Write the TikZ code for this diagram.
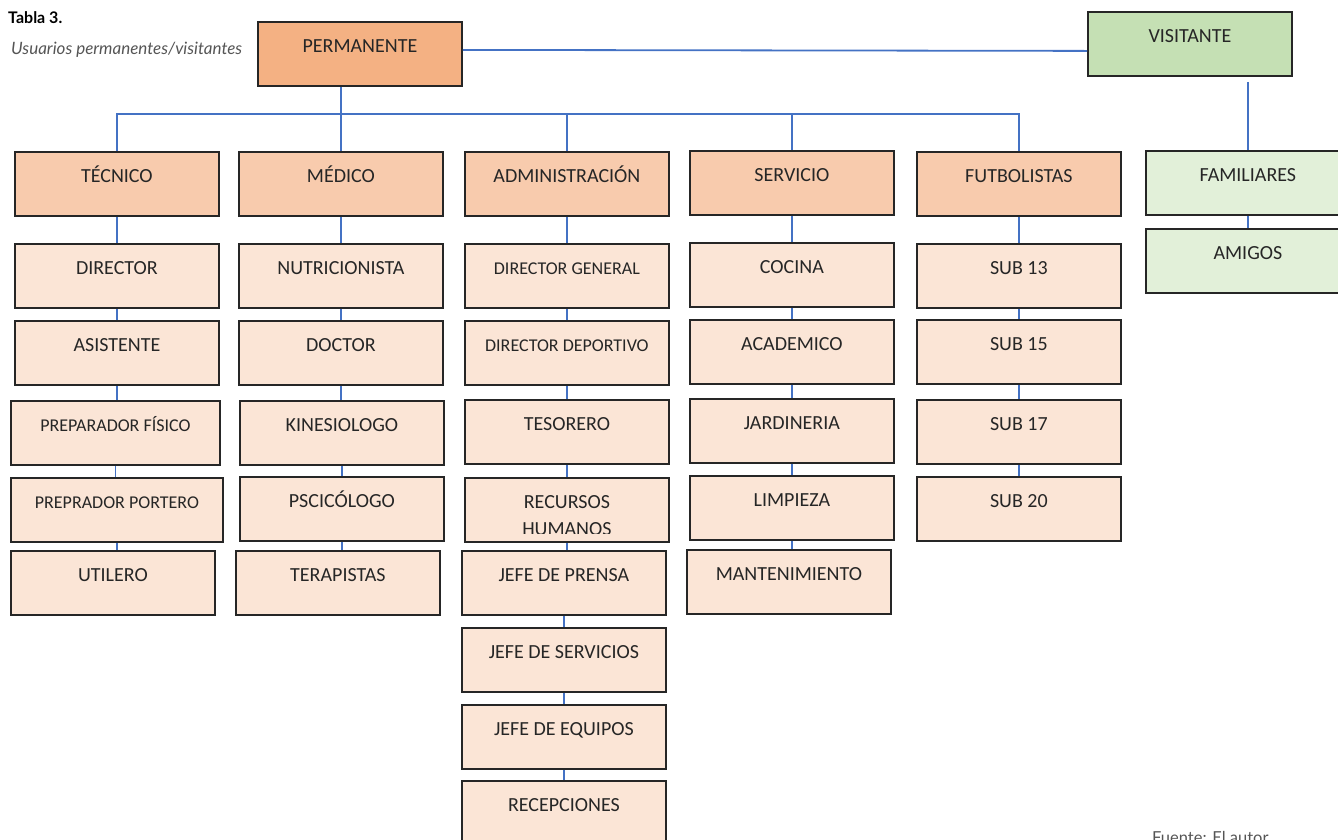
\documentclass[tikz,border=0pt]{standalone}
\usepackage{fontspec}
\setmainfont{Carlito}
\newfontfamily\capfont{Lato}
\usepackage{tikz}
\usetikzlibrary{positioning,calc}
\usepackage{xcolor}
\definecolor{permcol}{HTML}{F4B183}
\definecolor{catcol}{HTML}{F8CBAD}
\definecolor{subcol}{HTML}{FBE5D6}
\definecolor{viscol}{HTML}{C5E0B4}
\definecolor{famcol}{HTML}{E2F0D9}
\definecolor{linkcol}{HTML}{4472C4}
\definecolor{edgecol}{HTML}{262626}
\definecolor{capcol}{HTML}{555555}
\tikzset{
  % org box: text sits in the upper part
  orgbox/.style={rectangle, draw=edgecol, line width=1.8pt, fill=#1, anchor=north west,
                 minimum width=204pt, minimum height=64pt, inner sep=0pt,
                 text height=31pt, text depth=33pt, text=edgecol,
                 font=\fontsize{20}{24}\selectfont},
  orgbox/.default={subcol},
  % category box
  catbox/.style={orgbox=catcol},
  % sub box
  subbox/.style={orgbox=subcol},
  % smaller label
  smalltxt/.style={font=\fontsize{18}{22}\selectfont},
  % blue connector
  link/.style={draw=linkcol, line width=1.8pt},
  % caption text
  capt/.style={anchor=base west, inner sep=0pt, text=capcol},
}

\begin{document}
\begin{tikzpicture}[x=1pt,y=-1pt]
  \useasboundingbox (0,0) rectangle (1338,839);
  \clip (0,0) rectangle (1338,839);

  % caption
  \node[capt, text=black, font=\capfont\bfseries\fontsize{16}{19}\selectfont] (tabla) at (8,23) {Tabla 3.};
  \node[capt, font=\capfont\itshape\fontsize{17}{20}\selectfont] (usuarios) at (11,54) {Usuarios permanentes/visitantes};

  % top level
  \node[orgbox=permcol] (perm) at (257,21) {PERMANENTE};
  \node[orgbox=viscol] (vis) at (1087,11) {VISITANTE};

  % categories
  \node[catbox] (tec) at (14,151) {TÉCNICO};
  \node[catbox] (med) at (238,151) {MÉDICO};
  \node[catbox] (adm) at (464,151) {ADMINISTRACIÓN};
  \node[catbox] (ser) at (689,150) {SERVICIO};
  \node[catbox] (fut) at (916,151) {FUTBOLISTAS};
  \node[orgbox=famcol] (fam) at (1145,150) {FAMILIARES};
  \node[orgbox=famcol] (ami) at (1145,228) {AMIGOS};

  % tecnico
  \node[subbox] (dir) at (14,243) {DIRECTOR};
  \node[subbox] (asi) at (14,320) {ASISTENTE};
  \node[subbox, smalltxt, minimum width=209pt] (pfi) at (10,400) {PREPARADOR FÍSICO};
  \node[subbox, smalltxt, minimum width=212pt] (ppo) at (10,477) {PREPRADOR PORTERO};
  \node[subbox] (uti) at (10,550) {UTILERO};

  % medico
  \node[subbox] (nut) at (238,243) {NUTRICIONISTA};
  \node[subbox] (doc) at (238,320) {DOCTOR};
  \node[subbox] (kin) at (239,400) {KINESIOLOGO};
  \node[subbox] (psi) at (239,476) {PSCICÓLOGO};
  \node[subbox] (ter) at (235,550) {TERAPISTAS};

  % administracion
  \node[subbox, smalltxt] (dge) at (464,243) {DIRECTOR GENERAL};
  \node[subbox, smalltxt] (dde) at (464,320) {DIRECTOR DEPORTIVO};
  \node[subbox] (tes) at (464,399) {TESORERO};
  \node[subbox] (rrhh) at (464,477) {RECURSOS};
  \begin{scope}
    \clip (rrhh.north west) rectangle ([yshift=9pt]rrhh.south east);
    \node[anchor=base, inner sep=0pt, text=edgecol, font=\fontsize{20}{24}\selectfont] (rrhhb) at ($(rrhh.north)+(0,58)$) {HUMANOS};
  \end{scope}
  \node[subbox] (jpr) at (461,550) {JEFE DE PRENSA};
  \node[subbox] (jse) at (461,627) {JEFE DE SERVICIOS};
  \node[subbox] (jeq) at (461,704) {JEFE DE EQUIPOS};
  \node[subbox] (rec) at (461,780) {RECEPCIONES};

  % servicio
  \node[subbox] (coc) at (689,242) {COCINA};
  \node[subbox] (aca) at (689,319) {ACADEMICO};
  \node[subbox] (jar) at (689,398) {JARDINERIA};
  \node[subbox] (lim) at (689,475) {LIMPIEZA};
  \node[subbox] (man) at (686,549) {MANTENIMIENTO};

  % futbolistas
  \node[subbox] (s13) at (916,243) {SUB 13};
  \node[subbox] (s15) at (916,319) {SUB 15};
  \node[subbox] (s17) at (916,399) {SUB 17};
  \node[subbox] (s20) at (916,476) {SUB 20};

  \node[capt, font=\capfont\fontsize{16.5}{19}\selectfont] (fuente) at (1152,843) {Fuente: El autor};

  % connectors
  \coordinate (barL) at (117,114);
  \coordinate (barR) at (1017,114);
  \draw[link] ([yshift=4pt]perm.east) -- ([yshift=-7pt]vis.west);
  \draw[link] (perm.south -| med.north) -- (med.north);
  \draw[link] (tec.north) -- (tec.north |- barL) -- (fut.north |- barR) -- (fut.north);
  \draw[link] (adm.north) -- (adm.north |- barL);
  \draw[link] (ser.north) -- (ser.north |- barL);
  \draw[link] ([yshift=-5pt]vis.south -| fam.north) -- (fam.north);
  \foreach \a/\b in {tec/dir, dir/asi, asi/pfi, pfi/ppo, ppo/uti,
                     med/nut, nut/doc, doc/kin, kin/psi, psi/ter,
                     adm/dge, dge/dde, dde/tes, tes/rrhh, rrhh/jpr, jpr/jse, jse/jeq, jeq/rec,
                     ser/coc, coc/aca, aca/jar, jar/lim, lim/man,
                     fut/s13, s13/s15, s15/s17, s17/s20, fam/ami}
    \draw[link] (\a.south) -- (\a.south |- \b.north);
\end{tikzpicture}
\end{document}
